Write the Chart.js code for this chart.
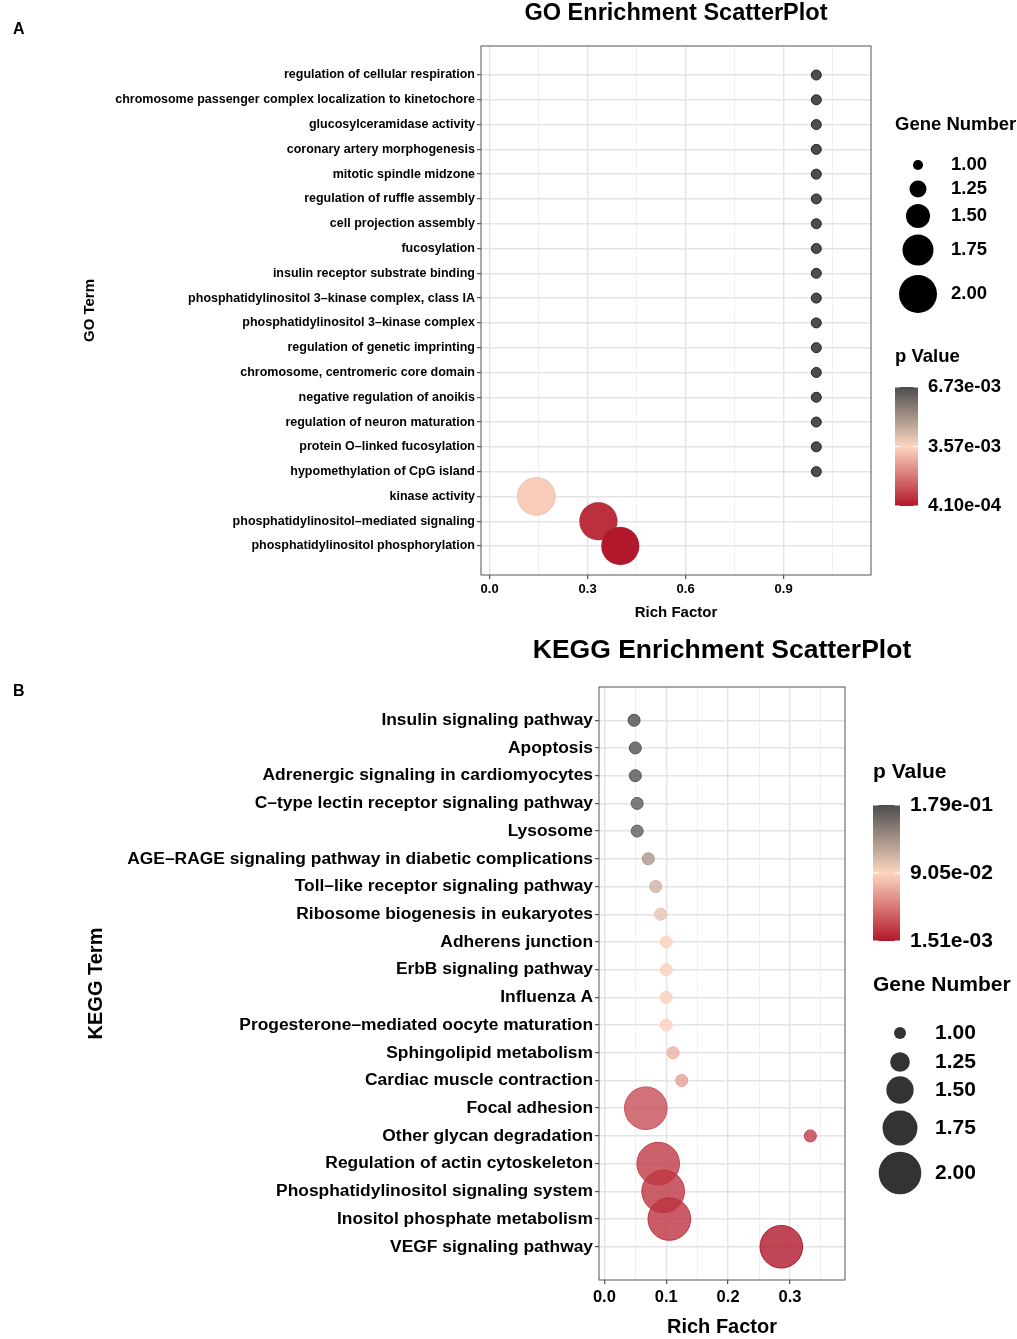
<!DOCTYPE html>
<html>
<head>
<meta charset="utf-8">
<script src="https://cdn.jsdelivr.net/npm/chart.js@4.4.1/dist/chart.umd.min.js"></script>
<style>
  html, body { margin:0; padding:0; background:#fff; }
  #wrap { position:relative; width:1017px; height:1339px; }
  canvas { position:absolute; left:0; }
  #go { top:0; }
  #kegg { top:620px; }
</style>
</head>
<body>
<div id="wrap">
  <canvas id="go" width="1017" height="640"></canvas>
  <canvas id="kegg" width="1017" height="719"></canvas>
</div>
<script>
// ---- GO panel data (top row first) ----
const GO_TERMS = [
  'regulation of cellular respiration',
  'chromosome passenger complex localization to kinetochore',
  'glucosylceramidase activity',
  'coronary artery morphogenesis',
  'mitotic spindle midzone',
  'regulation of ruffle assembly',
  'cell projection assembly',
  'fucosylation',
  'insulin receptor substrate binding',
  'phosphatidylinositol 3–kinase complex, class IA',
  'phosphatidylinositol 3–kinase complex',
  'regulation of genetic imprinting',
  'chromosome, centromeric core domain',
  'negative regulation of anoikis',
  'regulation of neuron maturation',
  'protein O–linked fucosylation',
  'hypomethylation of CpG island',
  'kinase activity',
  'phosphatidylinositol–mediated signaling',
  'phosphatidylinositol phosphorylation'
];
const GO_RICH  = [1,1,1,1,1,1,1,1,1,1,1,1,1,1,1,1,1, 0.143, 0.333, 0.4];
const GO_GENES = [1,1,1,1,1,1,1,1,1,1,1,1,1,1,1,1,1, 2, 2, 2];
const GO_P     = [6.73e-3,6.73e-3,6.73e-3,6.73e-3,6.73e-3,6.73e-3,6.73e-3,6.73e-3,6.73e-3,
                  6.73e-3,6.73e-3,6.73e-3,6.73e-3,6.73e-3,6.73e-3,6.73e-3,6.73e-3,
                  3.4e-3, 8.0e-4, 4.1e-4];
const GO_P_RANGE = [4.10e-4, 6.73e-3];
const GO_P_LABELS = ['6.73e-03', '3.57e-03', '4.10e-04'];
const GO_XTICKS = [0, 0.3, 0.6, 0.9];
const GO_XMINOR = [0.15, 0.45, 0.75, 1.05];

// ---- KEGG panel data (top row first) ----
const KEGG_TERMS = [
  'Insulin signaling pathway',
  'Apoptosis',
  'Adrenergic signaling in cardiomyocytes',
  'C–type lectin receptor signaling pathway',
  'Lysosome',
  'AGE–RAGE signaling pathway in diabetic complications',
  'Toll–like receptor signaling pathway',
  'Ribosome biogenesis in eukaryotes',
  'Adherens junction',
  'ErbB signaling pathway',
  'Influenza A',
  'Progesterone–mediated oocyte maturation',
  'Sphingolipid metabolism',
  'Cardiac muscle contraction',
  'Focal adhesion',
  'Other glycan degradation',
  'Regulation of actin cytoskeleton',
  'Phosphatidylinositol signaling system',
  'Inositol phosphate metabolism',
  'VEGF signaling pathway'
];
const KEGG_RICH  = [0.048, 0.050, 0.050, 0.053, 0.053, 0.071, 0.083, 0.091, 0.100, 0.100,
                    0.100, 0.100, 0.111, 0.125, 0.067, 0.333, 0.087, 0.095, 0.105, 0.286];
const KEGG_GENES = [1,1,1,1,1,1,1,1,1,1,1,1,1,1, 2, 1, 2, 2, 2, 2];
const KEGG_P     = [0.179, 0.176, 0.175, 0.171, 0.169, 0.132, 0.114, 0.102, 0.088, 0.088,
                    0.088, 0.088, 0.073, 0.065, 0.027, 0.020, 0.018, 0.016, 0.014, 0.00151];
const KEGG_P_RANGE = [1.51e-3, 1.795e-1];
const KEGG_P_LABELS = ['1.79e-01', '9.05e-02', '1.51e-03'];
const KEGG_XTICKS = [0, 0.1, 0.2, 0.3];
const KEGG_XMINOR = [0.05, 0.15, 0.25, 0.35];

const SIZE_BREAKS = [1, 1.25, 1.5, 1.75, 2];

const FONT = '"Liberation Sans", Arial, Helvetica, sans-serif';
const LOW = [178, 24, 43], MID = [252, 214, 193], HIGH = [77, 77, 77];

function ramp(t, a) {
  t = Math.max(0, Math.min(1, t));
  const [c0, c1, u] = t < 0.5 ? [LOW, MID, t * 2] : [MID, HIGH, (t - 0.5) * 2];
  const c = c0.map((v, i) => Math.round(v + (c1[i] - v) * u));
  return `rgba(${c[0]},${c[1]},${c[2]},${a})`;
}
const pT = (p, rg) => (p - rg[0]) / (rg[1] - rg[0]);

// legend / title / frame drawn next to the plot
const deco = {
  id: 'deco',
  afterDraw(chart, _args, o) {
    const ctx = chart.ctx, a = chart.chartArea;
    ctx.save();
    ctx.strokeStyle = '#555'; ctx.lineWidth = 1;
    ctx.strokeRect(a.left, a.top, a.right - a.left, a.bottom - a.top);

    ctx.fillStyle = '#000'; ctx.textBaseline = 'middle';
    ctx.font = `bold ${o.titleSize}px ${FONT}`; ctx.textAlign = 'center';
    ctx.fillText(o.title, (a.left + a.right) / 2, o.titleY);
    ctx.font = `bold 16px ${FONT}`; ctx.textAlign = 'left';
    ctx.fillText(o.letter, 13, o.letterY);

    ctx.font = `bold ${o.legSize}px ${FONT}`;
    const s = o.sizeLeg;
    ctx.fillText('Gene Number', s.x, s.titleY);
    SIZE_BREAKS.forEach((b, i) => {
      ctx.beginPath(); ctx.arc(s.cx, s.ys[i], o.radius(b), 0, Math.PI * 2);
      ctx.fillStyle = s.fill; ctx.fill();
      ctx.fillStyle = '#000'; ctx.fillText(b.toFixed(2), s.lx, s.ys[i]);
    });

    const c = o.bar;
    ctx.fillText('p Value', c.x, c.titleY);
    const g = ctx.createLinearGradient(0, c.y, 0, c.y + c.h);
    for (let k = 0; k <= 20; k++) g.addColorStop(k / 20, ramp(1 - k / 20, 1));
    ctx.fillStyle = g; ctx.fillRect(c.x, c.y, c.w, c.h);
    ctx.strokeStyle = '#fff'; ctx.lineWidth = 1;
    [0, 0.5, 1].forEach(f => {
      const y = c.y + c.h * f;
      ctx.beginPath();
      ctx.moveTo(c.x, y); ctx.lineTo(c.x + c.w / 5, y);
      ctx.moveTo(c.x + c.w, y); ctx.lineTo(c.x + c.w * 4 / 5, y);
      ctx.stroke();
    });
    ctx.fillStyle = '#000';
    o.pLabels.forEach((t, i) => ctx.fillText(t, c.lx, c.y + c.h * i / (o.pLabels.length - 1)));
    ctx.restore();
  }
};

function panel(id, o) {
  const major = v => o.xticks.includes(v);
  return new Chart(document.getElementById(id), {
    type: 'bubble',
    data: {
      datasets: [{
        data: o.rich.map((x, i) => ({ x, y: i, r: o.radius(o.genes[i]) })),
        backgroundColor: o.p.map(p => ramp(pT(p, o.prange), o.alpha)),
        borderColor: o.p.map(p => o.edge(ramp(pT(p, o.prange), 1))),
        borderWidth: 1
      }]
    },
    options: {
      responsive: false, animation: false, events: [],
      layout: { padding: o.pad },
      plugins: { legend: { display: false }, tooltip: { enabled: false }, deco: o.deco },
      scales: {
        x: {
          type: 'linear', min: o.xrange[0], max: o.xrange[1],
          afterBuildTicks: s => { s.ticks = [...o.xticks, ...o.xminor].sort((a, b) => a - b).map(v => ({ value: v })); },
          afterFit: s => { s.height = o.xh; },
          ticks: { autoSkip: false, maxRotation: 0, padding: o.xtickPad, color: '#000',
                   font: { family: FONT, size: o.tickSize, weight: 'bold' },
                   callback: v => major(v) ? v.toFixed(1) : '' },
          grid: { color: c => major(c.tick.value) ? '#e4e4e4' : '#eeeeee',
                  lineWidth: c => major(c.tick.value) ? 1.4 : 0.9,
                  tickLength: 4, tickWidth: 1,
                  tickColor: c => major(c.tick.value) ? '#333' : 'rgba(0,0,0,0)' },
          border: { display: false },
          title: { display: true, text: 'Rich Factor', color: '#000',
                   font: { family: FONT, size: o.axTitleSize, weight: 'bold' },
                   padding: { top: 0, bottom: o.xtitlePad } }
        },
        y: {
          type: 'linear', reverse: true, min: o.yrange[0], max: o.yrange[1],
          afterBuildTicks: s => { s.ticks = o.terms.map((t, i) => ({ value: i })); },
          afterFit: s => { s.width = o.yw; },
          ticks: { autoSkip: false, padding: 2, color: '#000',
                   font: { family: FONT, size: o.labelSize, weight: 'bold' },
                   callback: v => o.terms[v] },
          grid: { color: '#e4e4e4', lineWidth: 1.4, tickLength: 4, tickWidth: 1, tickColor: '#333' },
          border: { display: false },
          title: { display: true, text: o.ytitle, color: '#000',
                   font: { family: FONT, size: o.axTitleSize, weight: 'bold' },
                   padding: { top: 4, bottom: 0 } }
        }
      }
    },
    plugins: [deco]
  });
}

const goRadius = g => 5 + (g - 1) * 14;
const keggRadius = g => 6 + (g - 1) * 15.3;

panel('go', {
  terms: GO_TERMS, rich: GO_RICH, genes: GO_GENES, p: GO_P, prange: GO_P_RANGE,
  radius: goRadius, alpha: 1,
  edge: col => col === ramp(1, 1) ? '#222' : 'rgba(0,0,0,0.1)',
  xticks: GO_XTICKS, xminor: GO_XMINOR,
  xrange: [-0.0263, 1.1674], yrange: [-1.17, 20.17],
  pad: { left: 77, right: 146, top: 46, bottom: 0 },
  yw: 404, xh: 65, xtickPad: 3, xtitlePad: 18,
  tickSize: 13, labelSize: 12.5, axTitleSize: 15, ytitle: 'GO Term',
  deco: {
    title: 'GO Enrichment ScatterPlot', titleSize: 23.5, titleY: 14,
    letter: 'A', letterY: 30, legSize: 18.5, radius: goRadius,
    sizeLeg: { x: 895, titleY: 125, cx: 918, ys: [165, 189, 216, 250, 294], lx: 951, fill: '#000' },
    bar: { x: 895, titleY: 357, y: 387, h: 119, w: 23, lx: 928 },
    pLabels: GO_P_LABELS
  }
});

panel('kegg', {
  terms: KEGG_TERMS, rich: KEGG_RICH, genes: KEGG_GENES, p: KEGG_P, prange: KEGG_P_RANGE,
  radius: keggRadius, alpha: 0.8,
  edge: col => col,
  xticks: KEGG_XTICKS, xminor: KEGG_XMINOR,
  xrange: [-0.0087, 0.389], yrange: [-1.2, 20.2],
  pad: { left: 80, right: 172, top: 67, bottom: 0 },
  yw: 519, xh: 59, xtickPad: 4, xtitlePad: 0,
  tickSize: 16.5, labelSize: 17.4, axTitleSize: 20, ytitle: 'KEGG Term',
  deco: {
    title: 'KEGG Enrichment ScatterPlot', titleSize: 26.5, titleY: 31,
    letter: 'B', letterY: 72, legSize: 21, radius: keggRadius,
    sizeLeg: { x: 873, titleY: 365, cx: 900, ys: [413, 442, 470, 508, 553], lx: 935, fill: 'rgba(0,0,0,0.8)' },
    bar: { x: 873, titleY: 152, y: 185, h: 136, w: 27, lx: 910 },
    pLabels: KEGG_P_LABELS
  }
});
</script>
</body>
</html>
